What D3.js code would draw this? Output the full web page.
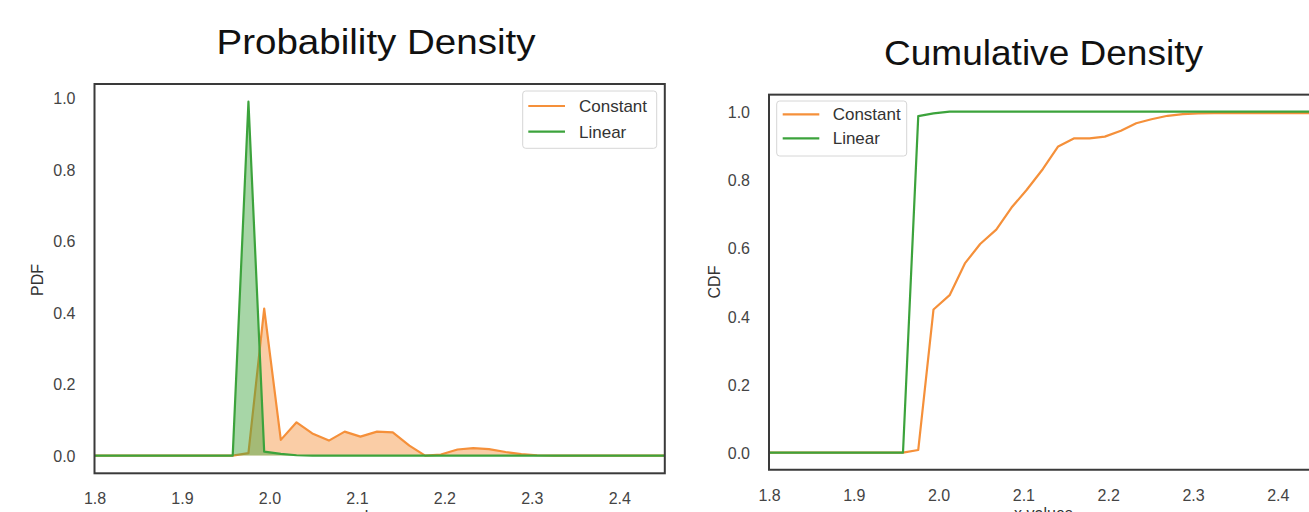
<!DOCTYPE html>
<html>
<head>
<meta charset="utf-8">
<script src="https://cdn.jsdelivr.net/npm/d3@7"></script>
<style>
  html, body { margin: 0; padding: 0; background: #fff; overflow: hidden; }
  svg { display: block; font-family: "Liberation Sans", Arial, Helvetica, sans-serif; }
</style>
</head>
<body>
<svg id="chart" width="1309" height="512"></svg>
<script>
// ---------------- data ----------------
const seriesNames = ["Constant", "Linear"];
const xTicks = [1.8, 1.9, 2.0, 2.1, 2.2, 2.3, 2.4];
const yTicks = [0.0, 0.2, 0.4, 0.6, 0.8, 1.0];

const xGrid = [1.79, 1.958, 1.976, 1.994, 2.013, 2.031, 2.049, 2.068, 2.086, 2.104, 2.123,
               2.141, 2.160, 2.178, 2.196, 2.215, 2.233, 2.251, 2.270, 2.288, 2.306, 2.325, 2.47];

const pdfConstant = [0, 0, 0.007, 0.411, 0.044, 0.093, 0.062, 0.042, 0.067, 0.053, 0.067,
                     0.065, 0.028, 0.0, 0.003, 0.017, 0.021, 0.018, 0.010, 0.004, 0.001, 0, 0];
const pdfLinear   = [0, 0, 0.99, 0.011, 0.005, 0.001, 0, 0, 0, 0, 0,
                     0, 0, 0, 0, 0, 0, 0, 0, 0, 0, 0, 0];

const cdfConstant = [0, 0, 0.008, 0.42, 0.462, 0.555, 0.612, 0.654, 0.719, 0.771, 0.832,
                     0.898, 0.922, 0.922, 0.927, 0.944, 0.966, 0.978, 0.988, 0.993, 0.995, 0.996, 0.996];
const cdfLinear   = [0, 0, 0.987, 0.995, 1.0, 1.0, 1.0, 1.0, 1.0, 1.0, 1.0,
                     1.0, 1.0, 1.0, 1.0, 1.0, 1.0, 1.0, 1.0, 1.0, 1.0, 1.0, 1.0];

const titles = ["Probability Density", "Cumulative Density"];
const yLabels = ["PDF", "CDF"];
const xLabel = "x values";

// ---------------- style ----------------
const colors = { Constant: "#f5903a", Linear: "#3ca33c" };
const svg = d3.select("#chart");

const panels = [
  { title: titles[0], ylab: yLabels[0], area: true,
    box: { left: 94.5, right: 664.8, top: 84, bottom: 473.3 },
    yDomain: [-0.0495, 1.0395],
    series: { Constant: pdfConstant, Linear: pdfLinear },
    titleX: 376, titleY: 54, titleLen: 319,
    ylabX: 37, ylabY: 280, xtickY: 504, xlabY: 522,
    legend: { x: 522.7, y: 91, w: 134, h: 57.3, lineX0: 528.3, lineX1: 565, rows: [106, 131.7], textX: 579 } },
  { title: titles[1], ylab: yLabels[1], area: false,
    box: { left: 769, right: 1321.9, top: 94.65, bottom: 469.75 },
    yDomain: [-0.05, 1.05],
    series: { Constant: cdfConstant, Linear: cdfLinear },
    titleX: 1043.5, titleY: 65, titleLen: 319,
    ylabX: 714.5, ylabY: 282, xtickY: 501, xlabY: 519,
    legend: { x: 776.7, y: 101, w: 130, h: 55, lineX0: 782.7, lineX1: 819.3, rows: [114.3, 138.3], textX: 832.7 } }
];

panels.forEach((p, i) => {
  const b = p.box;
  const x = d3.scaleLinear().domain([1.8, 2.452]).range([b.left, b.right]);
  const y = d3.scaleLinear().domain(p.yDomain).range([b.bottom, b.top]);

  // title
  svg.append("text")
    .attr("x", p.titleX).attr("y", p.titleY)
    .attr("text-anchor", "middle")
    .attr("font-size", 35)
    .attr("textLength", p.titleLen).attr("lengthAdjust", "spacingAndGlyphs")
    .attr("fill", "#111")
    .text(p.title);

  // clip
  const clipId = "clip" + i;
  svg.append("clipPath").attr("id", clipId)
    .append("rect").attr("x", b.left).attr("y", b.top)
    .attr("width", b.right - b.left).attr("height", b.bottom - b.top);

  const plot = svg.append("g").attr("clip-path", `url(#${clipId})`);

  seriesNames.forEach(name => {
    const vals = p.series[name];
    const pts = xGrid.map((xv, k) => [xv, vals[k]]);
    if (p.area) {
      plot.append("path")
        .datum(pts)
        .attr("d", d3.area().x(d => x(d[0])).y0(y(0)).y1(d => y(d[1])))
        .attr("fill", colors[name]).attr("fill-opacity", 0.45).attr("stroke", "none");
    }
    plot.append("path")
      .datum(pts)
      .attr("d", d3.line().x(d => x(d[0])).y(d => y(d[1])))
      .attr("fill", "none").attr("stroke", colors[name])
      .attr("stroke-width", 2.2).attr("stroke-linejoin", "round");
  });

  // frame
  svg.append("rect")
    .attr("x", b.left).attr("y", b.top)
    .attr("width", b.right - b.left).attr("height", b.bottom - b.top)
    .attr("fill", "none").attr("stroke", "#3a3a3a").attr("stroke-width", 2);

  // y axis
  const yAxis = svg.append("g")
    .attr("transform", `translate(${b.left},0)`)
    .call(d3.axisLeft(y).tickValues(yTicks).tickSize(0).tickPadding(19).tickFormat(d3.format(".1f")));
  yAxis.select(".domain").remove();
  yAxis.selectAll("text").attr("font-size", 16).attr("fill", "#444")
    .attr("font-family", "Liberation Sans, Arial, sans-serif").attr("dy", "0.36em");

  // x axis
  const xAxis = svg.append("g")
    .attr("transform", `translate(0,${p.xtickY})`)
    .call(d3.axisBottom(x).tickValues(xTicks).tickSize(0).tickPadding(0).tickFormat(d3.format(".1f")));
  xAxis.select(".domain").remove();
  xAxis.selectAll("text").attr("font-size", 16).attr("fill", "#444")
    .attr("font-family", "Liberation Sans, Arial, sans-serif").attr("y", 0).attr("dy", 0);

  // axis labels
  svg.append("text")
    .attr("transform", `translate(${p.ylabX},${p.ylabY}) rotate(-90)`)
    .attr("text-anchor", "middle").attr("dy", "0.36em")
    .attr("font-size", 16).attr("fill", "#333")
    .text(p.ylab);
  svg.append("text")
    .attr("x", (b.left + Math.min(b.right, 1322)) / 2 - (i === 1 ? 2 : 15)).attr("y", p.xlabY)
    .attr("text-anchor", "middle").attr("font-size", 16).attr("fill", "#333")
    .text(xLabel);

  // legend
  const L = p.legend;
  svg.append("rect")
    .attr("x", L.x).attr("y", L.y).attr("width", L.w).attr("height", L.h)
    .attr("rx", 3).attr("fill", "#fff").attr("fill-opacity", 0.85)
    .attr("stroke", "#d6d6d6").attr("stroke-width", 1);
  seriesNames.forEach((name, k) => {
    svg.append("line")
      .attr("x1", L.lineX0).attr("x2", L.lineX1)
      .attr("y1", L.rows[k]).attr("y2", L.rows[k])
      .attr("stroke", colors[name]).attr("stroke-width", 2.2);
    svg.append("text")
      .attr("x", L.textX).attr("y", L.rows[k]).attr("dy", "0.36em")
      .attr("font-size", 17).attr("fill", "#333")
      .text(name);
  });
});
</script>
</body>
</html>
